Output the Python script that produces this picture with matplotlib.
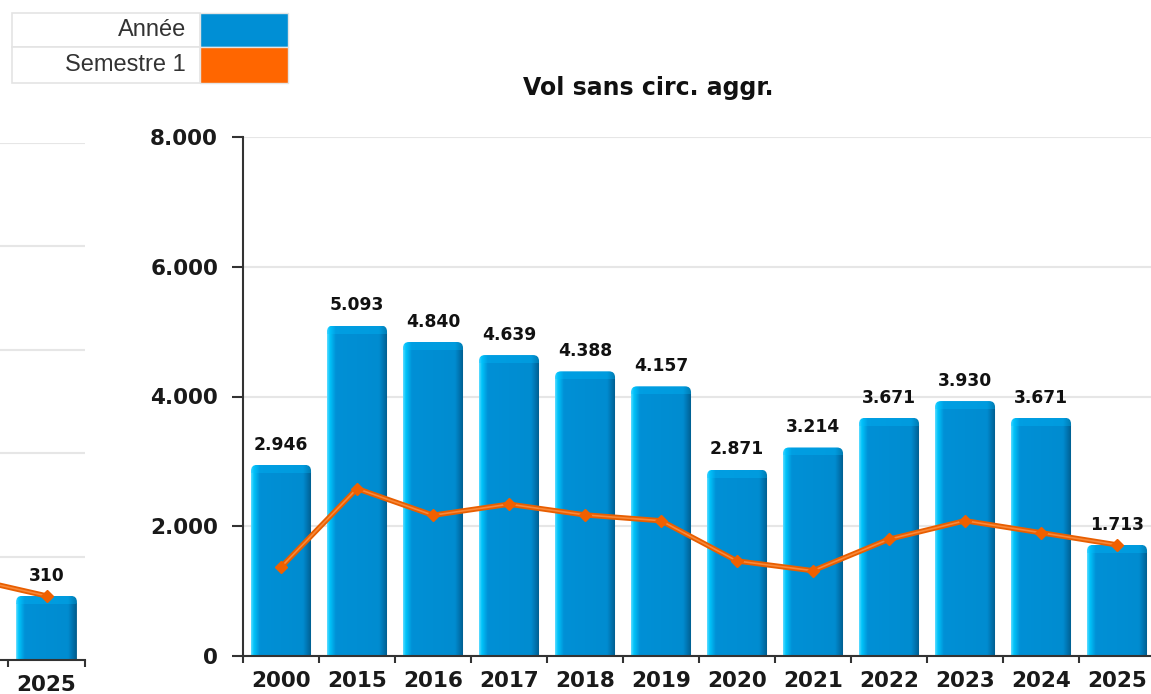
import numpy as np
import matplotlib
matplotlib.use("Agg")
import matplotlib.pyplot as plt
from matplotlib.patches import Rectangle, FancyBboxPatch
from matplotlib.ticker import FuncFormatter, FixedLocator

# main chart data
years = ["2000", "2015", "2016", "2017", "2018", "2019", "2020", "2021",
         "2022", "2023", "2024", "2025"]
annee = [2946, 5093, 4840, 4639, 4388, 4157, 2871, 3214, 3671, 3930, 3671, 1713]
semestre1 = [1370, 2580, 2170, 2340, 2175, 2085, 1465, 1315, 1800, 2085, 1900, 1713]

# neighbouring (cropped) chart on the left
left_years = ["2024", "2025"]
left_annee = [720, 310]
left_semestre1 = [395, 310]

TITLE = "Vol sans circ. aggr."
BLUE = "#008fd5"
W, H = 1151, 694
plt.rcParams["font.family"] = ["DejaVu Sans"]


def thou(v, _=None):
    return f"{int(v):,}".replace(",", ".")


# horizontal colour profile of the "cylinder" bars
prof_x = [0.0, 0.04, 0.14, 0.86, 0.93, 1.0]
prof_c = np.array([[0x50, 0xd8, 0xff], [0x00, 0xc4, 0xfa], [0x00, 0x90, 0xd6],
                   [0x00, 0x8c, 0xd0], [0x00, 0x74, 0xb0], [0x00, 0x5c, 0x8c]]) / 255
xs = np.linspace(0, 1, 60)
grad = np.stack([np.interp(xs, prof_x, prof_c[:, k]) for k in range(3)], axis=-1)[None]
cap = np.clip(grad * 0.7 + np.array([0.0, 0.75, 1.0]) * 0.3, 0, 1)


def draw_bars(ax, vals, width=0.79):
    px = ax.transData.transform([(0, 0), (1, 1)])
    ux, uy = px[1] - px[0]              # pixels per data unit
    ch = 8 / uy
    for i, v in enumerate(vals):
        x0, x1 = i - width / 2, i + width / 2
        clip = FancyBboxPatch((x0, -ch), width, v + ch,
                              boxstyle=f"round,pad=0,rounding_size={6 / ux}",
                              mutation_aspect=ux / uy, transform=ax.transData,
                              facecolor="none", edgecolor="none")
        ax.add_patch(clip)
        for img, lo, hi in [(grad, 0, v - ch), (cap, v - ch, v)]:
            im = ax.imshow(img, extent=(x0, x1, lo, hi), aspect="auto", zorder=2,
                           interpolation="bilinear")
            im.set_clip_path(clip)


def draw_line(ax, vals):
    x = np.arange(len(vals))
    ax.plot(x, vals, color="#e85e00", lw=3.8, zorder=4, solid_capstyle="round")
    ax.plot(x, vals, color="#ff9a50", lw=1.2, zorder=5, alpha=0.7)
    ax.plot(x, vals, ls="none", marker="D", ms=6, color="#f06000", zorder=6)


def style_axes(ax, labels, ymax, ystep):
    ax.set_ylim(0, ymax)
    ax.set_xlim(-0.5, len(labels) - 0.5)
    ax.set_yticks(np.arange(0, ymax + 1, ystep))
    ax.yaxis.set_major_formatter(FuncFormatter(thou))
    ax.set_xticks(range(len(labels)))
    ax.set_xticklabels(labels)
    ax.xaxis.set_minor_locator(FixedLocator(np.arange(-0.5, len(labels), 1.0)))
    ax.tick_params(axis="x", which="major", length=0, pad=11,
                   labelsize=15.5, labelcolor="#1a1a1a")
    ax.tick_params(axis="x", which="minor", length=5, width=1.5, color="#333333")
    ax.tick_params(axis="y", length=8, width=1.5, pad=10, color="#333333",
                   labelsize=15.5, labelcolor="#1a1a1a")
    for t in ax.get_xticklabels() + ax.get_yticklabels():
        t.set_fontweight("bold")
    for s in ["top", "right"]:
        ax.spines[s].set_visible(False)
    for s in ["left", "bottom"]:
        ax.spines[s].set_color("#333333")
        ax.spines[s].set_linewidth(1.5)
    ax.grid(axis="y", color="#e6e6e6", lw=1.5, zorder=0)
    ax.set_axisbelow(True)
    ax.set_facecolor("none")


def value_labels(ax, vals, idx=None):
    for i, v in enumerate(vals):
        if idx is not None and i not in idx:
            continue
        ax.annotate(thou(v), (i, v), xytext=(0, 11), textcoords="offset points",
                    ha="center", va="baseline", fontsize=12.3, fontweight="bold",
                    color="#111111", zorder=7)


fig = plt.figure(figsize=(W / 100, H / 100), dpi=100)

# main chart
ax = fig.add_axes([243 / W, (H - 656) / H, 912 / W, (656 - 137) / H])
style_axes(ax, years, 8000, 2000)

# cropped left chart
ax2 = fig.add_axes([-69 / W, (H - 660) / H, 154 / W, (660 - 143) / H])
style_axes(ax2, left_years, 2500, 500)
ax2.spines["left"].set_visible(False)

fig.canvas.draw()
for a, bars, line, ys, idx in [(ax, annee, semestre1, (0, 8000), None),
                               (ax2, left_annee, left_semestre1, (0, 2500), [1])]:
    draw_bars(a, bars)
    draw_line(a, line)
    value_labels(a, bars, idx)
    a.set_ylim(*ys)
    a.set_xlim(-0.5, len(bars) - 0.5)

fig.text(648 / W, 1 - 88 / H, TITLE, ha="center", va="center",
         fontsize=17, fontweight="bold", color="#111111")

# legend table
rows = [("Année", BLUE), ("Semestre 1", "#ff6600")]
row_y = [13, 47, 83]
for k, (lab, col) in enumerate(rows):
    y0, y1 = row_y[k], row_y[k + 1]
    fig.add_artist(Rectangle((12 / W, 1 - y1 / H), 188 / W, (y1 - y0) / H,
                             transform=fig.transFigure, facecolor="white",
                             edgecolor="#e4e4e4", lw=1.2))
    fig.add_artist(Rectangle((200 / W, 1 - y1 / H), 88 / W, (y1 - y0) / H,
                             transform=fig.transFigure, facecolor=col,
                             edgecolor="#e4e4e4", lw=1.0))
    fig.text(186 / W, 1 - (y0 + y1) / 2 / H, lab, ha="right", va="center",
             fontsize=17, color="#333333", family=["Liberation Sans", "DejaVu Sans"])

fig.savefig("out.png", dpi=100)
